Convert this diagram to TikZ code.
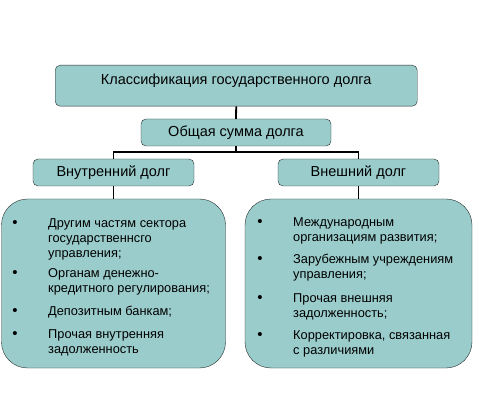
\documentclass[tikz,border=0pt]{standalone}
\usepackage{fontspec}
\setmainfont{Liberation Sans}
\usetikzlibrary{positioning}
\definecolor{sea}{HTML}{99CCCB}
\definecolor{rim}{HTML}{262B2B}
\newcommand{\itemtext}[1]{\begin{tabular}[t]{@{}l@{}}#1\end{tabular}}

\begin{document}
\begin{tikzpicture}[x=1pt, y=-1pt,
          b/.style={draw=rim, fill=sea, rounded corners=5pt, inner sep=0pt, font=\fontsize{14.5}{16}\selectfont},
          big/.style={draw=rim, fill=sea, rounded corners=26pt, inner sep=0pt},
          w/.style={line width=1.8pt},
          dot/.style={anchor=base, inner sep=0pt, font=\fontsize{15}{15}\selectfont},
          item/.style={anchor=base west, inner sep=0pt, font=\fontsize{12.8}{15}\selectfont}]
        \useasboundingbox (0,0) rectangle (479,403);
        \node[b, minimum width=362pt, text height=11pt, text depth=14pt, inner ysep=7pt, minimum height=41pt, anchor=north west] (klass) at (55,65) {Классификация государственного долга};
        \node[b, minimum width=190pt, minimum height=27pt] (obsh) at (236,132.5) {Общая сумма долга};
        \node[b, minimum width=161pt, minimum height=27pt] (vnutr) at (113.5,172.5) {Внутренний долг};
        \node[b, minimum width=161pt, minimum height=27pt] (vnesh) at (358.5,172.5) {Внешний долг};
        \node[big, minimum width=224pt, minimum height=169pt] (lbox) at (113.5,283.5) {};
        \node[big, minimum width=227pt, minimum height=169pt] (rbox) at (358.5,283.5) {};
        \draw[w] (klass.south) -- (obsh.north);
        \draw[w] (obsh.south) -- ++(0,6) -| (vnutr.north);
        \draw[w] (obsh.south) ++(0,6) -| (vnesh.north);
        \draw[w] (vnutr.south) -- (lbox.north);
        \draw[w] (vnesh.south) -- (rbox.north);
        \foreach \y/\t [count=\i] in {228/{Другим частям сектора\\государственнсго\\управления;},
            277/{Органам денежно-\\кредитного регулирования;}, 315/{Депозитным банкам;},
            338/{Прочая внутренняя\\задолженность}}{
          \node[dot] (lb\i) at (15,\y) {\textbullet};
          \node[item] (li\i) at (48,\y) {\itemtext{\t}};}
        \foreach \y/\t [count=\i] in {227/{Международным\\организациям развития;}, 264/{Зарубежным учреждениям\\управления;},
            302/{Прочая внешняя\\задолженность;}, 339/{Корректировка, связанная\\с различиями}}{
          \node[dot] (rb\i) at (260,\y) {\textbullet};
          \node[item] (ri\i) at (293,\y) {\itemtext{\t}};}
      \end{tikzpicture}
\end{document}
